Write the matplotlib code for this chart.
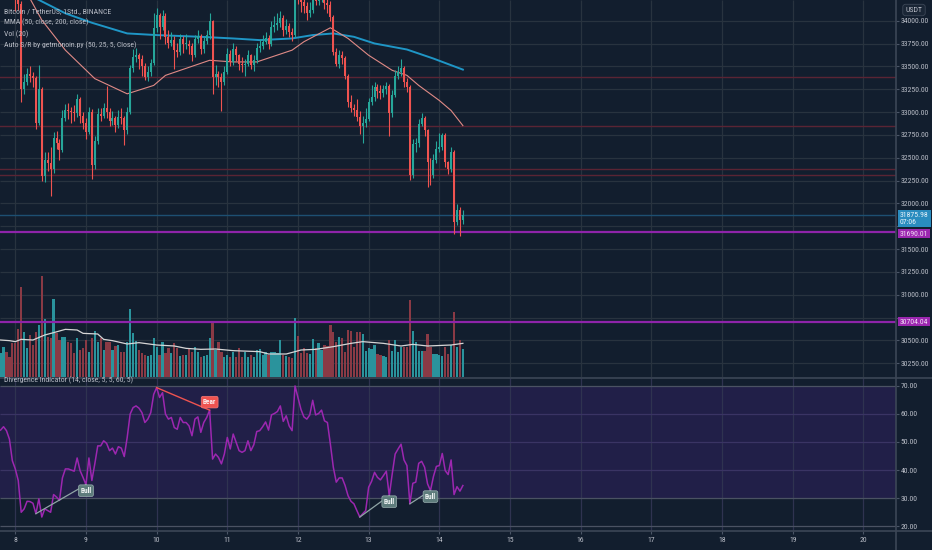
import numpy as np
import matplotlib.pyplot as plt
import matplotlib.font_manager as fm
from matplotlib.lines import Line2D
from matplotlib import transforms

FONT, FS = 'Liberation Sans', 4.9
for name, size in [('Liberation Sans Narrow', 5.6), ('DejaVu Sans Condensed', 5.0), ('Roboto Condensed', 5.6)]:
    try:
        fm.findfont(name, fallback_to_default=False)
        FONT, FS = name, size
        break
    except ValueError:
        pass
plt.rcParams['font.family'] = [FONT, 'DejaVu Sans']

# --- Data: 1h BTC/USDT candles, first candle 7th 19:00 ---
first_open = 34400
closes = [34420, 34460, 34430, 34380, 34330, 34250, 34180, 33250, 33330, 33420,
          33400, 33370, 32880, 33250, 32300, 32480, 32440, 32380, 32720, 32660,
          32590, 32940, 33020, 33010, 33000, 32990, 33140, 32960, 32880, 32780,
          33000, 32420, 32680, 32980, 32960, 33040, 33000, 32900, 32930, 32860,
          32950, 32930, 32800, 33000, 33480, 33600, 33630, 33580, 33500, 33380,
          33440, 33540, 33920, 34060, 33930, 34050, 33820, 33760, 33790, 33680,
          33660, 33800, 33740, 33750, 33720, 33620, 33800, 33830, 33690, 33780,
          33840, 34000, 33380, 33420, 33380, 33330, 33440, 33640, 33550, 33690,
          33620, 33530, 33510, 33530, 33620, 33510, 33570, 33700, 33720, 33770,
          33810, 33750, 33930, 33950, 33970, 34030, 33900, 33940, 33880, 33840,
          34300, 34260, 34200, 34160, 34080, 34120, 34310, 34220, 34240, 34280,
          34190, 34170, 34040, 33660, 33530, 33620, 33590, 33400, 33110, 33050,
          33020, 32950, 32850, 32880, 32920, 33110, 33170, 33280, 33230, 33210,
          33250, 33290, 32990, 33190, 33400, 33440, 33480, 33330, 33280, 32310,
          32650, 32660, 32870, 32930, 32800, 32450, 32310, 32480, 32600, 32620,
          32750, 32450, 32380, 32560, 31800, 31930, 31820, 31876]
highs = [34480, 34520, 34500, 34470, 34420, 34370, 34290, 34220, 33420, 33480,
         33500, 33440, 33400, 33520, 33280, 32560, 32560, 32620, 32780, 32790,
         32700, 33020, 33090, 33100, 33060, 33080, 33200, 33170, 33000, 32940,
         33060, 33030, 32740, 33040, 33050, 33100, 33290, 33040, 33010, 32960,
         33020, 33050, 32960, 33060, 33520, 33690, 33700, 33650, 33620, 33540,
         33500, 33580, 34080, 34140, 34090, 34120, 34080, 33900, 33880, 33830,
         33760, 33850, 33830, 33850, 33790, 33760, 33840, 33900, 33860, 33820,
         33900, 34080, 34010, 33520, 33450, 33430, 33500, 33700, 33680, 33760,
         33720, 33640, 33600, 33580, 33680, 33640, 33620, 33760, 33800, 33840,
         33880, 33840, 34000, 34050, 34080, 34110, 34060, 34020, 33980, 33920,
         34380, 34380, 34300, 34260, 34200, 34200, 34400, 34340, 34300, 34360,
         34300, 34250, 34220, 34060, 33700, 33680, 33670, 33610, 33420, 33190,
         33090, 33140, 33010, 32960, 33050, 33150, 33300, 33330, 33310, 33300,
         33300, 33330, 33310, 33240, 33460, 33500, 33580, 33500, 33370, 33300,
         32700, 32720, 32920, 32990, 32960, 32820, 32500, 32540, 32680, 32770,
         32770, 32770, 32470, 32620, 32580, 31990, 31960, 31930]
lows = [34360, 34390, 34380, 34330, 34280, 34110, 34120, 33110, 33200, 33300,
        33330, 33280, 32820, 32860, 32250, 32230, 32360, 32080, 32330, 32600,
        32480, 32560, 32900, 32920, 32880, 32900, 32950, 32880, 32820, 32700,
        32760, 32270, 32380, 32650, 32900, 32930, 32940, 32850, 32860, 32780,
        32830, 32870, 32640, 32760, 32980, 33440, 33550, 33470, 33400, 33350,
        33340, 33400, 33520, 33880, 33800, 33900, 33740, 33700, 33720, 33470,
        33600, 33630, 33650, 33690, 33640, 33560, 33600, 33760, 33640, 33650,
        33750, 33800, 33200, 33300, 33280, 33010, 33300, 33420, 33500, 33520,
        33560, 33460, 33440, 33400, 33500, 33470, 33450, 33540, 33660, 33690,
        33740, 33690, 33720, 33880, 33900, 33930, 33830, 33860, 33820, 33780,
        33820, 34180, 34100, 34080, 34010, 34040, 34090, 34170, 34170, 34200,
        34130, 34090, 34000, 33620, 33500, 33480, 33530, 33360, 33060, 33000,
        32960, 32900, 32760, 32660, 32840, 32900, 33080, 33120, 33150, 33140,
        33170, 33200, 32740, 32950, 33160, 33360, 33400, 33280, 33220, 32260,
        32280, 32560, 32620, 32850, 32740, 32180, 32200, 32280, 32440, 32560,
        32580, 32400, 32320, 32340, 31660, 31760, 31640, 31780]
volumes = [487, 593, 507, 407, 673, 673, 960, 1807, 907, 573,
           840, 640, 907, 1040, 2027, 1153, 807, 773, 1553, 873,
           740, 793, 793, 707, 673, 473, 773, 540, 573, 740,
           507, 773, 927, 707, 773, 540, 707, 707, 540, 620,
           640, 507, 507, 707, 1360, 873, 727, 540, 487, 440,
           427, 440, 787, 607, 440, 707, 473, 573, 473, 673,
           573, 420, 440, 440, 553, 507, 593, 507, 407, 420,
           440, 787, 1073, 540, 707, 507, 407, 440, 407, 507,
           407, 573, 407, 507, 407, 440, 407, 540, 553, 440,
           507, 440, 507, 507, 473, 740, 440, 420, 393, 373,
           1173, 820, 487, 573, 487, 460, 760, 573, 687, 540,
           640, 620, 1040, 907, 707, 793, 773, 507, 940, 927,
           607, 907, 907, 860, 527, 573, 553, 640, 460, 440,
           420, 393, 740, 527, 740, 507, 593, 593, 593, 1540,
           920, 707, 527, 527, 527, 860, 593, 460, 453, 440,
           420, 593, 460, 640, 1293, 593, 740, 553]
rsi = [54.2, 55.4, 54.0, 51.0, 43.3, 40.4, 36.3, 25.0, 26.2, 28.9,
       28.8, 28.2, 24.5, 29.8, 23.3, 26.2, 25.6, 25.0, 31.3, 30.4,
       29.2, 37.2, 40.4, 40.4, 40.0, 39.6, 44.3, 39.8, 37.4, 34.8,
       44.3, 36.3, 42.2, 48.6, 48.6, 50.4, 49.5, 46.9, 47.8, 45.7,
       48.3, 47.8, 44.8, 51.6, 59.9, 62.2, 62.8, 62.0, 60.4, 56.9,
       58.1, 60.4, 66.9, 69.3, 65.8, 67.5, 59.9, 58.1, 58.7, 55.1,
       54.5, 58.7, 56.9, 56.9, 55.7, 52.2, 58.1, 58.9, 53.4, 56.9,
       58.7, 61.3, 43.9, 45.7, 44.5, 42.2, 45.7, 51.6, 47.5, 52.8,
       49.8, 46.9, 46.3, 46.9, 50.4, 46.9, 49.0, 53.7, 54.0, 55.4,
       57.1, 54.2, 59.6, 60.1, 60.8, 62.8, 57.3, 59.3, 55.7, 54.0,
       69.9, 65.8, 61.6, 58.9, 58.1, 59.6, 64.8, 59.6, 60.1, 61.3,
       57.5, 56.9, 49.2, 41.0, 35.7, 37.2, 37.2, 34.5, 30.9, 28.9,
       28.0, 25.6, 23.3, 24.5, 25.6, 33.9, 36.0, 39.2, 37.4, 36.5,
       38.0, 39.6, 30.9, 38.6, 45.7, 47.5, 49.2, 43.6, 41.6, 28.0,
       35.3, 35.7, 42.4, 43.1, 41.0, 35.1, 32.7, 37.7, 41.3, 41.6,
       45.9, 39.8, 38.4, 43.6, 31.3, 34.1, 32.5, 34.5]

# moving averages at a few candles
ma50_idx = [9, 14, 22, 32, 43, 52, 56, 71, 79, 87, 99, 103, 112, 118, 125, 133, 138, 142, 149, 153, 157]
ma50_val = [34300, 34008, 33678, 33366, 33200, 33292, 33402, 33567, 33549, 33549, 33678,
            33770, 33923, 33806, 33622, 33457, 33402, 33292, 33127, 33017, 32852]
ma200_idx = [0, 13, 22, 31, 43, 53, 68, 79, 88, 99, 106, 113, 120, 127, 138, 147, 157]
ma200_val = [34440, 34228, 34081, 33978, 33861, 33843, 33824, 33806, 33788, 33806, 33843,
             33861, 33824, 33751, 33685, 33586, 33465]
vma_idx = [0, 3, 5, 7, 11, 15, 18, 22, 26, 28, 33, 35, 38, 43, 47, 53, 59, 63, 68, 73,
           79, 88, 91, 97, 100, 102, 107, 113, 119, 123, 130, 136, 140, 145, 153, 157]
vma_val = [740, 727, 707, 753, 740, 840, 887, 953, 940, 873, 860, 753, 727, 660, 687, 640,
           620, 573, 553, 560, 527, 507, 460, 460, 507, 540, 553, 607, 673, 707, 673, 620,
           653, 620, 640, 673]

sr_red = [33384, 32852, 32382, 32309]
sr_purple = [31690.01, 30704.04]
last_price = 31875.98
last_time = "07:06"

# divergences: (start candle, end candle, kind)
divs = [(12, 29, 'Bull'), (53, 71, 'Bear'), (122, 132, 'Bull'), (139, 146, 'Bull')]

price_ticks = np.arange(30250, 34001, 250)
rsi_ticks = [20, 30, 40, 50, 60, 70]
day_ticks = list(range(8, 21))

# --- Styling ---
BG = '#121e2e'
GRID = '#28333f'
TXT = '#b8bcc6'
UP, DOWN = '#26a69a', '#ef5350'
VUP, VDOWN = '#2a939c', '#8a3a45'

W, H = 932, 550
def rect(l, t, r, b):
    return [l / W, 1 - b / H, (r - l) / W, (b - t) / H]

n = min(len(closes), len(highs), len(lows), len(volumes), len(rsi))
c = np.array(closes[:n], float)
o = np.concatenate([[first_open], c[:-1]])
h = np.array(highs[:n], float)
l = np.array(lows[:n], float)
v = np.array(volumes[:n], float)
r = np.array(rsi[:n], float)
t = 7 + 19 / 24 + np.arange(n) / 24
up = c >= o

fig = plt.figure(figsize=(9.32, 5.5), dpi=100, facecolor=BG)
ax_v = fig.add_axes(rect(0, 0, 896, 377))
ax = fig.add_axes(rect(0, 0, 896, 377), sharex=ax_v)
ax_r = fig.add_axes(rect(0, 378, 896, 531), sharex=ax_v)

ax_v.set_facecolor(BG)
ax.set_facecolor('none')
ax_r.set_facecolor(BG)
ax_v.set_xlim(7.7835, 20.462)
ax.set_ylim(30100, 34227)
ax_v.set_ylim(0, 7540)
ax_r.set_ylim(18.34, 72.72)

# grid for price pane (drawn under the volume bars)
blend = transforms.blended_transform_factory(ax_v.transAxes, ax.transData)
ax_v.hlines(price_ticks, 0, 1, transform=blend, color=GRID, lw=0.9, zorder=0)
ax_v.vlines(day_ticks, 0, 1, transform=ax_v.get_xaxis_transform(), color=GRID, lw=0.9, zorder=0)

# volume
ax_v.bar(t, v, width=0.032, color=np.where(up, VUP, VDOWN), zorder=2)
ax_v.plot(t[vma_idx], vma_val, color='#d6d6d6', lw=0.9, zorder=3)

# S/R lines
for p in sr_red:
    ax.axhline(p, color='#5a2434', lw=1.0, zorder=1)
ax.axhline(last_price, color='#1d4f72', lw=1.0, zorder=1)
for p in sr_purple:
    ax.axhline(p, color='#8e24aa', lw=1.6, zorder=1)

# moving averages
ax.plot(t[ma200_idx], ma200_val, color='#1f96c6', lw=1.4, zorder=4)
ax.plot(t[ma50_idx], ma50_val, color='#e08a86', lw=0.8, zorder=4)

# candles
col = np.where(up, UP, DOWN)
ax.vlines(t, l, h, colors=col, lw=0.8, zorder=5)
body = np.maximum(np.abs(c - o), 12)
ax.bar(t, body, bottom=np.minimum(o, c), width=0.028, color=col, lw=0, zorder=6)

# axes cosmetics
for a in (ax, ax_v, ax_r):
    for s in a.spines.values():
        s.set_visible(False)
ax_v.tick_params(left=False, right=False, bottom=False, labelleft=False, labelbottom=False)
ax.tick_params(axis='x', bottom=False, labelbottom=False)
ax.yaxis.tick_right()
ax.set_yticks(price_ticks)
# labels hidden under the price boxes on the reference (31750 and 30750)
hidden = [last_price - 125, sr_purple[1]]
ax.set_yticklabels(["" if min(abs(p - x) for x in hidden) < 100 else f"{p:.2f}" for p in price_ticks])
ax.tick_params(axis='y', colors='#4a5566', labelcolor=TXT, labelsize=FS, length=2.2, pad=1.2)

ax_r.yaxis.tick_right()
ax_r.set_yticks(rsi_ticks)
ax_r.set_yticklabels([f"{x:.2f}" for x in rsi_ticks])
ax_r.tick_params(axis='y', colors='#4a5566', labelcolor=TXT, labelsize=FS, length=2.2, pad=1.2)
ax_r.set_xticks(day_ticks)
ax_r.set_xticklabels([str(d) for d in day_ticks])
ax_r.tick_params(axis='x', colors='#4a5566', labelcolor=TXT, labelsize=FS, length=2.2, pad=2)

# indicator pane
ax_r.axhspan(30, 70, color='#211f48', zorder=0, lw=0)
ax_r.vlines(day_ticks, 0, 1, transform=ax_r.get_xaxis_transform(), color='#2f3350', lw=0.9, zorder=0.5)
ax_r.hlines([40, 50, 60], 0, 1, transform=ax_r.get_yaxis_transform(), color='#3a3464', lw=0.9, zorder=0.6)
ax_r.hlines([20, 30, 70], 0, 1, transform=ax_r.get_yaxis_transform(), color='#4a5262', lw=0.9, zorder=0.6)
ax_r.plot(t, r, color='#9c27b0', lw=1.1, zorder=3)
for i0, i1, kind in divs:
    if kind == 'Bull':
        ax_r.plot([t[i0], t[i1]], [r[i0], r[i1]], color='#8fa5a5', lw=0.9, zorder=4)
        ax_r.annotate('Bull', xy=(t[i1], r[i1]), xytext=(0, -6), textcoords='offset pixels',
                      ha='center', va='center', fontsize=FS - 0.4, color='#eef2f2', fontweight='bold',
                      zorder=6, bbox=dict(boxstyle='round,pad=0.25', fc='#5e7c7c', ec='#9ab0b0', lw=0.5))
    else:
        ax_r.plot([t[i0], t[i1]], [r[i0], r[i1]], color='#ef5350', lw=1.0, zorder=4)
        ax_r.annotate('Bear', xy=(t[i1], r[i1]), xytext=(0, 8), textcoords='offset pixels',
                      ha='center', va='center', fontsize=FS - 0.4, color='#fbeaea', fontweight='bold',
                      zorder=6, bbox=dict(boxstyle='round,pad=0.25', fc='#ef5350', ec='#f47a78', lw=0.5))

# separators
for (x0, y0, x1, y1) in [(896, 0, 896, 550), (0, 377.5, 932, 377.5), (0, 531, 932, 531)]:
    fig.add_artist(Line2D([x0 / W, x1 / W], [1 - y0 / H, 1 - y1 / H], color='#3c4656', lw=1.2))

# legend texts
legend = ["Bitcoin / TetherUS, 1Std., BINANCE", "MMA (50, close, 200, close)", "Vol (20)",
          "Auto S/R by getmonoin.py (50, 25, 5, Close)"]
for k, txt in enumerate(legend):
    fig.text(4 / W, 1 - (11 + 11.5 * k) / H, txt, color=TXT, fontsize=FS, va='center', ha='left')
fig.text(4 / W, 1 - 380 / H, "Divergence Indicator (14, close, 5, 5, 60, 5)", color=TXT,
         fontsize=FS, va='center', ha='left')

# right-axis boxes
fig.text(914 / W, 1 - 10 / H, "USDT", color=TXT, fontsize=FS, va='center', ha='center',
         bbox=dict(boxstyle='round,pad=0.35', fc='#1a2636', ec='#3c4656', lw=0.6))
ax.annotate(f"{last_price:.2f}\n{last_time}", xy=(1.0, last_price), xycoords=('axes fraction', 'data'),
            xytext=(4, -4), textcoords='offset pixels', ha='left', va='center', fontsize=FS,
            color='#e6f2fa', linespacing=1.15, annotation_clip=False, zorder=10,
            bbox=dict(boxstyle='square,pad=0.3', fc='#2a8cbf', ec='none'))
for k, p in enumerate(sr_purple):
    ax.annotate(f"{p:.2f}", xy=(1.0, p), xycoords=('axes fraction', 'data'), xytext=(4, -2 if k == 0 else 0),
                textcoords='offset pixels', ha='left', va='center', fontsize=FS, color='#f1dcf5',
                annotation_clip=False, zorder=11,
                bbox=dict(boxstyle='square,pad=0.2', fc='#9c27b0', ec='none'))

fig.savefig('out.png', dpi=100, facecolor=BG)
